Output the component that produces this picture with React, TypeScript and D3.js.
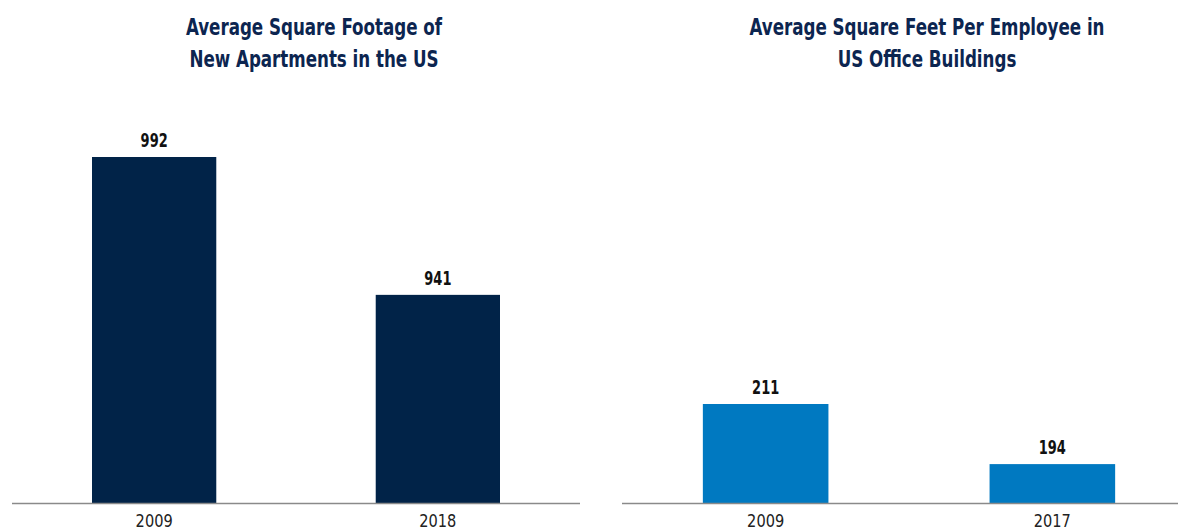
import React, { useEffect, useRef } from 'react'
import * as d3 from 'd3'

const leftTitle = ['Average Square Footage of', 'New Apartments in the US']
const leftYears = ['2009', '2018']
const leftValues = [992, 941]

const rightTitle = ['Average Square Feet Per Employee in', 'US Office Buildings']
const rightYears = ['2009', '2017']
const rightValues = [211, 194]

const W = 1178
const H = 531
const font = "'DejaVu Sans Condensed', 'DejaVu Sans', sans-serif"

const App = () => {
    const ref = useRef<SVGSVGElement>(null)

    useEffect(() => {
        const svg = d3.select(ref.current)
        svg.selectAll('*').remove()
        const baseY = 503

        const panels = [
            { title: leftTitle, years: leftYears, values: leftValues, x0: 12, x1: 580, yMin: 864, yTop: 992, topPx: 157, color: '#012348' },
            { title: rightTitle, years: rightYears, values: rightValues, x0: 622, x1: 1196, yMin: 183, yTop: 211, topPx: 404, color: '#0079c1' },
        ]

        // condensed look: squeeze text horizontally around its anchor
        const squeeze = (sel, x, yy, k) => sel.attr('transform', `translate(${x},${yy}) scale(${k},1)`)

        panels.forEach(p => {
            const g = svg.append('g')
            const data = p.years.map((y, i) => ({ year: y, value: p.values[i] }))

            const x = d3.scaleBand()
                .domain(p.years)
                .range([p.x0, p.x1])
                .paddingInner(0.562)
                .paddingOuter(0.282)

            const y = d3.scaleLinear()
                .domain([p.yMin, p.yTop])
                .range([baseY, p.topPx])

            const cx = (p.x0 + p.x1) / 2 + 18
            p.title.forEach((line, i) => {
                g.append('text')
                    .attr('text-anchor', 'middle')
                    .attr('font-family', font)
                    .attr('font-weight', 'bold')
                    .attr('font-size', 23.5)
                    .attr('fill', '#0c2550')
                    .call(s => squeeze(s, cx, 35 + i * 32, 0.79))
                    .text(line)
            })

            g.selectAll('rect')
                .data(data)
                .join('rect')
                .attr('x', d => x(d.year)!)
                .attr('y', d => y(d.value))
                .attr('width', x.bandwidth())
                .attr('height', d => baseY - y(d.value))
                .attr('fill', p.color)

            data.forEach(d => {
                const bx = x(d.year)! + x.bandwidth() / 2
                g.append('text')
                    .attr('text-anchor', 'middle')
                    .attr('font-family', font)
                    .attr('font-weight', 'bold')
                    .attr('font-size', 19)
                    .attr('fill', '#111')
                    .call(s => squeeze(s, bx, y(d.value) - 10, 0.76))
                    .text(d.value)

                g.append('text')
                    .attr('text-anchor', 'middle')
                    .attr('font-family', font)
                    .attr('font-size', 18)
                    .attr('fill', '#222')
                    .call(s => squeeze(s, bx, 527, 0.9))
                    .text(d.year)
            })

            g.append('line')
                .attr('x1', p.x0)
                .attr('x2', p.x1)
                .attr('y1', baseY + 0.5)
                .attr('y2', baseY + 0.5)
                .attr('stroke', '#8a8a8a')
                .attr('stroke-width', 1.5)
        })
    }, [])

    return (
        <div style={{ position: 'absolute', left: 0, top: 0, width: W, height: H, background: '#fff' }}>
            <svg ref={ref} width={W} height={H} style={{ display: 'block' }} />
        </div>
    )
}

export default App
